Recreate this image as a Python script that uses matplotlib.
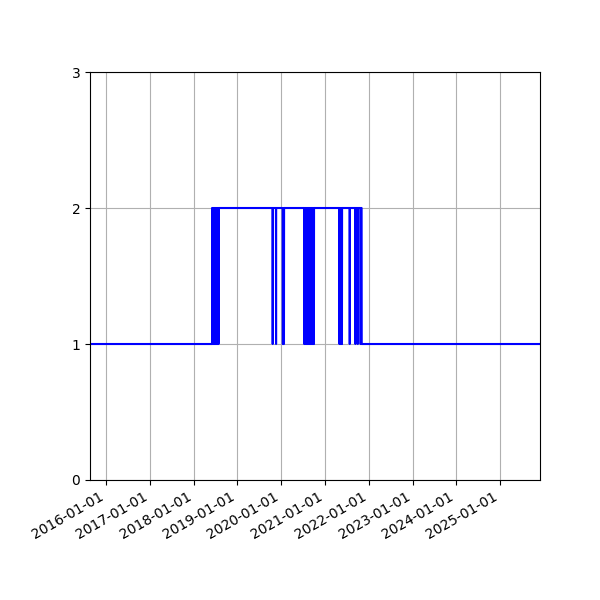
import numpy as np
import pandas as pd
import matplotlib
matplotlib.use("Agg")
import matplotlib.pyplot as plt
import matplotlib.dates as mdates

# Series range (daily)
start_date = "2015-08-19"
end_date = "2025-11-30"

# Periods where the value is 2 (inclusive); value is 1 elsewhere
high_starts = [
    "2018-06-04", "2018-06-08", "2018-06-13", "2018-06-17", "2018-06-22",
    "2018-06-26", "2018-07-01", "2018-07-05", "2018-07-10", "2018-07-14",
    "2018-07-19", "2018-07-23", "2018-07-28",
    "2019-10-23", "2019-11-20", "2020-01-25",
    "2020-07-13", "2020-07-18", "2020-07-23", "2020-07-28", "2020-08-02",
    "2020-08-07", "2020-08-12", "2020-08-17", "2020-08-22", "2020-08-27",
    "2020-09-01", "2020-09-06", "2020-09-11", "2020-09-16", "2020-09-21",
    "2020-09-26", "2020-10-01",
    "2021-05-03", "2021-05-08", "2021-05-13", "2021-05-18", "2021-05-23",
    "2021-07-27", "2021-09-12", "2021-10-02", "2021-10-26",
]
high_ends = [
    "2018-06-05", "2018-06-10", "2018-06-14", "2018-06-19", "2018-06-23",
    "2018-06-28", "2018-07-02", "2018-07-07", "2018-07-11", "2018-07-16",
    "2018-07-20", "2018-07-25", "2019-10-21",
    "2019-11-18", "2020-01-13", "2020-07-10",
    "2020-07-15", "2020-07-20", "2020-07-25", "2020-07-30", "2020-08-04",
    "2020-08-09", "2020-08-14", "2020-08-19", "2020-08-24", "2020-08-29",
    "2020-09-03", "2020-09-08", "2020-09-13", "2020-09-18", "2020-09-23",
    "2020-09-28", "2021-04-30",
    "2021-05-05", "2021-05-10", "2021-05-15", "2021-05-20", "2021-07-25",
    "2021-09-10", "2021-09-30", "2021-10-24", "2021-11-02",
]
low_value = 1
high_value = 2

dates = pd.date_range(start_date, end_date, freq="D")
values = np.full(len(dates), low_value)
for s, e in zip(high_starts, high_ends):
    mask = (dates >= pd.Timestamp(s)) & (dates <= pd.Timestamp(e))
    values[mask] = high_value

fig, ax = plt.subplots(figsize=(6, 6), dpi=100)
fig.subplots_adjust(left=0.15, right=0.9, top=0.88)

ax.plot(dates, values, color="blue")
ax.set_ylim(0, 3)
ax.set_yticks([0, 1, 2, 3])
ax.set_xlim(dates[0], dates[-1])
ax.xaxis.set_major_locator(mdates.YearLocator())
ax.xaxis.set_major_formatter(mdates.DateFormatter("%Y-%m-%d"))
ax.grid(True)
fig.autofmt_xdate()

fig.savefig("out.png")
